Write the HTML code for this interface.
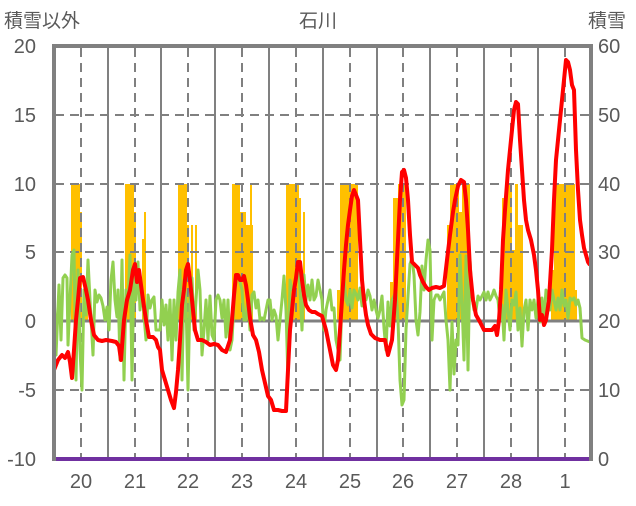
<!DOCTYPE html>
<html><head><meta charset="utf-8"><style>
body{margin:0;background:#fff;width:636px;height:501px;overflow:hidden}
svg text{font-family:"Liberation Sans","Noto Sans CJK JP",sans-serif;fill:#595959}
</style></head><body>
<svg width="636" height="501" xmlns="http://www.w3.org/2000/svg">
<text x="4" y="27" font-size="19">積雪以外</text>
<text x="318" y="27" font-size="19" text-anchor="middle">石川</text>
<text x="588" y="27" font-size="19">積雪</text>
<g font-size="20" text-anchor="end">
<text x="36" y="53">20</text><text x="36" y="122">15</text><text x="36" y="191">10</text><text x="36" y="259">5</text><text x="36" y="328">0</text><text x="36" y="397">-5</text><text x="36" y="466">-10</text></g>
<g font-size="20">
<text x="598" y="53">60</text><text x="598" y="122">50</text><text x="598" y="191">40</text><text x="598" y="259">30</text><text x="598" y="328">20</text><text x="598" y="397">10</text><text x="598" y="466">0</text></g>
<g font-size="20" text-anchor="middle">
<text x="81" y="488">20</text><text x="135" y="488">21</text><text x="188" y="488">22</text><text x="242" y="488">23</text><text x="296" y="488">24</text><text x="350" y="488">25</text><text x="403" y="488">26</text><text x="457" y="488">27</text><text x="511" y="488">28</text><text x="565" y="488">1</text></g>
<g fill="#FFC000">
<rect x="71" y="184" width="9" height="137"/><rect x="80" y="212" width="2" height="109"/><rect x="85" y="281" width="3" height="40"/>
<rect x="125" y="184" width="9" height="137"/><rect x="134" y="212" width="2" height="109"/><rect x="142" y="239" width="2" height="82"/><rect x="144" y="212" width="2" height="109"/>
<rect x="178" y="184" width="9" height="137"/><rect x="187" y="225" width="2" height="96"/><rect x="191" y="225" width="2" height="96"/><rect x="195" y="225" width="2" height="96"/>
<rect x="232" y="184" width="8" height="137"/><rect x="240" y="212" width="6" height="109"/><rect x="246" y="225" width="7" height="96"/><rect x="250" y="184" width="2" height="137"/>
<rect x="286" y="184" width="13" height="137"/><rect x="299" y="198" width="2" height="123"/><rect x="303" y="212" width="2" height="109"/>
<rect x="337" y="290" width="3" height="31"/><rect x="340" y="184" width="18" height="137"/>
<rect x="390" y="282" width="3" height="39"/><rect x="393" y="198" width="5" height="123"/><rect x="398" y="184" width="8" height="137"/>
<rect x="447" y="225" width="3" height="96"/><rect x="450" y="184" width="9" height="137"/><rect x="459" y="212" width="3" height="109"/><rect x="462" y="184" width="8" height="137"/>
<rect x="502" y="198" width="3" height="123"/><rect x="505" y="184" width="7" height="137"/><rect x="512" y="250" width="3" height="71"/><rect x="515" y="184" width="3" height="137"/><rect x="518" y="225" width="5" height="96"/>
<rect x="551" y="270" width="3" height="51"/><rect x="554" y="184" width="21" height="137"/><rect x="575" y="290" width="2" height="31"/>
</g>
<g stroke="#808080" stroke-width="2" stroke-dasharray="9,6">
<line x1="55" y1="115" x2="590" y2="115"/><line x1="55" y1="184" x2="590" y2="184"/><line x1="55" y1="252" x2="590" y2="252"/><line x1="55" y1="390" x2="590" y2="390"/>
<line x1="81" y1="48" x2="81" y2="458"/><line x1="135" y1="48" x2="135" y2="458"/><line x1="188" y1="48" x2="188" y2="458"/><line x1="242" y1="48" x2="242" y2="458"/><line x1="296" y1="48" x2="296" y2="458"/><line x1="350" y1="48" x2="350" y2="458"/><line x1="403" y1="48" x2="403" y2="458"/><line x1="457" y1="48" x2="457" y2="458"/><line x1="511" y1="48" x2="511" y2="458"/><line x1="565" y1="48" x2="565" y2="458"/>
</g>
<g stroke="#808080" stroke-width="2">
<line x1="108" y1="48" x2="108" y2="458"/><line x1="161" y1="48" x2="161" y2="458"/><line x1="215" y1="48" x2="215" y2="458"/><line x1="269" y1="48" x2="269" y2="458"/><line x1="323" y1="48" x2="323" y2="458"/><line x1="377" y1="48" x2="377" y2="458"/><line x1="430" y1="48" x2="430" y2="458"/><line x1="484" y1="48" x2="484" y2="458"/><line x1="538" y1="48" x2="538" y2="458"/>
<line x1="55" y1="321" x2="590" y2="321" stroke-width="3"/>
</g>
<polyline fill="none" stroke="#92D050" stroke-width="3" stroke-linejoin="round" points="54,290 56,355 59,285 61,340 63,278 65,275 67,278 68,345 70,300 72,255 74,250 76,380 78,270 80,350 82,390 84,290 86,315 88,260 90,300 93,355 95,290 97,302 99,295 101,298 103,306 105,320 107,307 109,330 111,280 113,262 115,300 117,317 118,290 120,360 122,260 124,380 126,290 128,300 130,255 132,380 134,268 136,300 138,262 140,310 142,290 144,315 146,340 148,295 150,308 152,300 154,297 156,330 158,330 160,330 162,300 164,325 166,305 168,340 170,300 172,360 174,300 176,340 178,292 180,270 182,380 184,280 186,300 188,390 190,296 192,278 194,330 196,300 198,270 200,290 202,355 204,330 206,300 208,340 210,296 212,335 214,340 216,300 218,295 220,300 222,318 224,300 226,337 228,300 230,350 232,340 234,302 236,280 238,276 240,282 242,290 244,320 246,320 248,296 250,330 252,295 254,292 256,308 258,300 260,320 262,318 264,320 266,310 268,300 270,300 272,320 274,310 276,316 278,340 280,320 282,300 284,276 286,310 288,380 290,280 292,290 294,290 296,276 298,262 300,290 302,330 304,275 306,300 308,285 310,300 312,280 314,300 316,296 318,280 320,290 322,300 324,330 326,310 328,300 330,290 332,310 334,308 336,340 338,350 340,360 342,300 344,280 346,300 348,305 350,290 352,308 354,290 356,294 358,300 360,288 362,306 364,300 366,300 368,290 370,296 372,310 374,300 376,310 378,318 380,310 382,296 384,328 386,350 388,302 390,326 392,300 394,296 396,290 398,320 400,380 402,405 404,400 406,330 408,296 410,264 412,258 414,275 416,320 418,335 420,312 422,266 424,290 426,260 428,240 430,250 432,340 434,300 436,295 438,295 440,300 442,296 444,292 446,320 448,340 450,390 452,322 454,374 456,340 458,345 460,255 462,303 464,360 466,256 468,370 470,260 472,295 474,310 476,310 478,296 480,300 482,296 484,292 486,300 488,292 490,300 492,296 494,290 496,296 498,300 500,320 502,305 504,340 506,290 508,310 510,330 512,300 514,305 516,292 518,330 520,308 522,346 524,310 526,300 528,330 530,300 532,310 534,300 536,318 538,300 540,322 542,298 544,320 546,290 548,298 550,310 552,290 554,300 556,310 558,298 560,310 562,290 564,306 566,300 568,318 570,298 572,300 574,298 576,305 578,300 580,308 582,338 585,340 590,342"/>
<polyline fill="none" stroke="#FF0000" stroke-width="4" stroke-linejoin="round" points="54,370 58,360 62,355 65,358 68,352 70,362 72,378 74,350 76,320 78,300 80,278 83,277 86,290 88,300 91,320 94,335 98,340 102,341 106,340 112,341 116,342 119,346 121,360 124,320 127,300 130,290 133,270 135,264 137,282 139,270 141,285 143,300 146,320 149,337 153,337 156,340 158,347 160,350 162,370 165,380 168,390 171,400 174,408 176,392 178,370 180,340 182,305 184,290 186,270 188,264 190,280 192,300 195,330 198,340 202,340 206,342 210,345 214,344 218,345 222,350 226,352 230,340 232,320 234,295 236,275 238,275 240,280 242,280 244,276 246,285 248,300 250,318 253,335 256,340 259,352 262,370 265,383 268,396 271,400 274,410 278,410 282,411 286,411 288,370 290,330 292,310 294,290 296,278 298,262 300,262 302,280 304,295 306,305 309,310 312,312 315,312 318,314 322,316 326,330 330,350 333,365 336,370 338,360 340,330 342,300 344,270 346,245 348,225 350,210 352,196 354,190 356,195 358,200 360,240 362,280 364,300 366,315 368,325 371,334 375,338 380,340 385,340 388,355 392,340 395,300 398,240 400,200 402,172 404,170 406,178 408,200 410,235 412,262 415,265 418,268 420,275 423,282 426,287 429,290 432,288 436,287 440,288 444,286 447,260 450,235 453,212 455,200 458,186 461,180 464,182 466,200 468,230 470,270 473,300 476,315 480,322 484,330 488,330 492,330 495,326 497,335 499,320 501,290 503,240 505,210 508,170 510,150 512,130 514,110 516,102 518,104 520,140 522,170 524,200 526,220 528,230 531,240 534,255 536,270 538,290 540,320 542,315 544,325 546,320 549,300 552,250 554,200 556,160 558,140 560,120 562,100 564,80 566,60 568,62 570,70 572,85 574,90 576,150 578,190 580,220 582,235 584,248 586,255 588,262 590,265"/>
<line x1="53" y1="459" x2="592" y2="459" stroke="#7030A0" stroke-width="4"/>
<line x1="54" y1="46" x2="592" y2="46" stroke="#808080" stroke-width="4"/>
<line x1="54" y1="44" x2="54" y2="461" stroke="#808080" stroke-width="4"/>
<line x1="591" y1="44" x2="591" y2="461" stroke="#808080" stroke-width="4"/>
</svg>
</body></html>
